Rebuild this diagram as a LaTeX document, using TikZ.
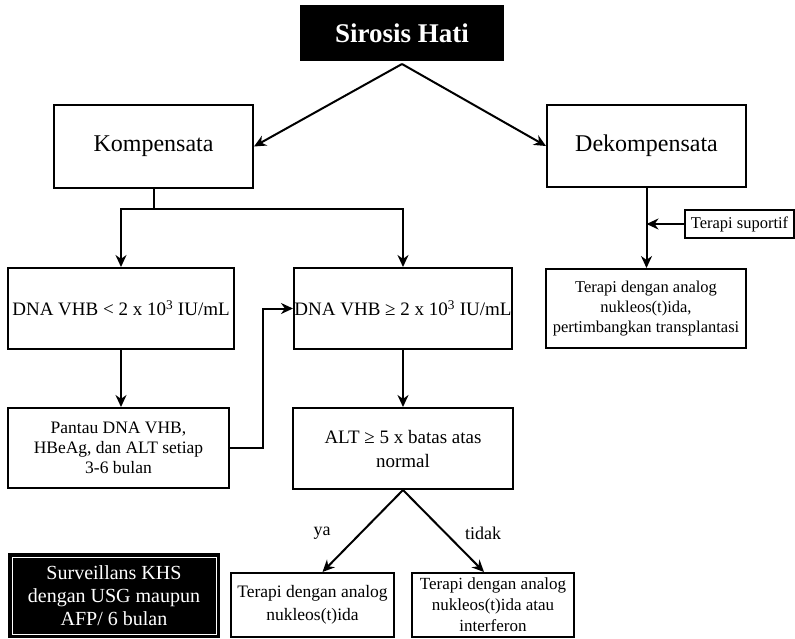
\documentclass[tikz,border=0pt]{standalone}
\usepackage{fontspec}
\setmainfont{Liberation Serif}
\usetikzlibrary{arrows.meta,calc}
\tikzset{
  box/.style={draw=black, line width=2pt, fill=white, rectangle, inner sep=0pt, align=center, anchor=north west},
  darkbox/.style={draw=black, line width=2pt, fill=black, text=white, rectangle, inner sep=0pt, align=center, anchor=north west},
  conn/.style={line width=2pt, draw=black},
  arr/.style={conn, -{Stealth[length=12pt,width=11pt]}},
  lbl/.style={font=\fontsize{18}{20}\selectfont}
}
\begin{document}
\begin{tikzpicture}[x=1pt,y=-1pt]
\useasboundingbox (0,0) rectangle (795,638);
% nodes
\node[darkbox, minimum width=202pt, minimum height=54pt, font=\bfseries\fontsize{27}{30}\selectfont] (sh) at (300,5) {Sirosis Hati};
\node[box, minimum width=199pt, minimum height=83pt, font=\fontsize{24}{28}\selectfont] (komp) at (53,104) {Kompensata};
\node[box, minimum width=199pt, minimum height=82pt, font=\fontsize{24}{28}\selectfont] (dek) at (546,104) {Dekompensata};
\node[box, minimum width=226pt, minimum height=81pt, font=\fontsize{19}{23}\selectfont] (dnal) at (7,267) {DNA VHB < 2 x 10\textsuperscript{3} IU/mL};
\node[box, minimum width=218pt, minimum height=81pt, font=\fontsize{19}{23}\selectfont] (dnag) at (293,267) {DNA VHB ≥ 2 x 10\textsuperscript{3} IU/mL};
\node[box, minimum width=221pt, minimum height=80pt, font=\fontsize{17.5}{20}\selectfont] (pantau) at (7,407) {Pantau DNA VHB,\\HBeAg, dan ALT setiap\\3-6 bulan};
\node[box, minimum width=220pt, minimum height=81pt, font=\fontsize{19}{24}\selectfont] (alt) at (292,407) {ALT ≥ 5 x batas atas\\normal};
\node[box, minimum width=163pt, minimum height=64pt, font=\fontsize{17.5}{23}\selectfont] (tya) at (230,572) {Terapi dengan analog\\nukleos(t)ida};
\node[box, minimum width=162pt, minimum height=64pt, font=\fontsize{17}{21}\selectfont] (ttid) at (411,572) {Terapi dengan analog\\nukleos(t)ida atau\\interferon};
\node[darkbox, minimum width=210pt, minimum height=83pt, font=\fontsize{20}{23}\selectfont] (surv) at (8,553) {Surveillans KHS\\dengan USG maupun\\AFP/ 6 bulan};
\draw[white, line width=1pt] ($(surv.north west)+(4pt,-4pt)$) rectangle ($(surv.south east)+(-4pt,4pt)$);
\node[box, minimum width=109pt, minimum height=28pt, font=\fontsize{16.5}{20}\selectfont] (tsup) at (684,209) {Terapi suportif};
\node[box, minimum width=200pt, minimum height=79pt, font=\fontsize{16.5}{20}\selectfont] (tdek) at (545,268) {Terapi dengan analog\\nukleos(t)ida,\\pertimbangkan transplantasi};
% coordinates
\coordinate (apex) at ($(sh.south)+(0,-3pt)$);
\coordinate (kbend) at ($(komp.south)+(0,-20pt)$);
\coordinate (pcorner) at (263,0);
\coordinate (tyatip) at ($(tya.north)+(10pt,0)$);
\coordinate (ttidtip) at ($(ttid.north)+(-9pt,0)$);
% connectors
\draw[arr] (apex) -- (komp.east);
\draw[arr] (apex) -- (dek.west);
\draw[conn] (komp.south) -- (kbend);
\draw[arr] (kbend) -| (dnal.north);
\draw[arr] (kbend) -| (dnag.north);
\draw[arr] (dnal.south) -- (dnal.south |- pantau.north);
\draw[arr] (pantau.east) -- (pantau.east -| pcorner) -- (pcorner |- dnag.west) -- (dnag.west);
\draw[arr] (dnag.south) -- (dnag.south |- alt.north);
\draw[arr] (alt.south) -- (tyatip);
\draw[arr] (alt.south) -- (ttidtip);
\draw[arr] (dek.south) -- (dek.south |- tdek.north);
\draw[arr] (tsup.west) -- (tsup.west -| dek.south);
% labels
\node[lbl] (lya) at (322,533) {ya};
\node[lbl] (ltid) at (483,533) {tidak};
\end{tikzpicture}
\end{document}
